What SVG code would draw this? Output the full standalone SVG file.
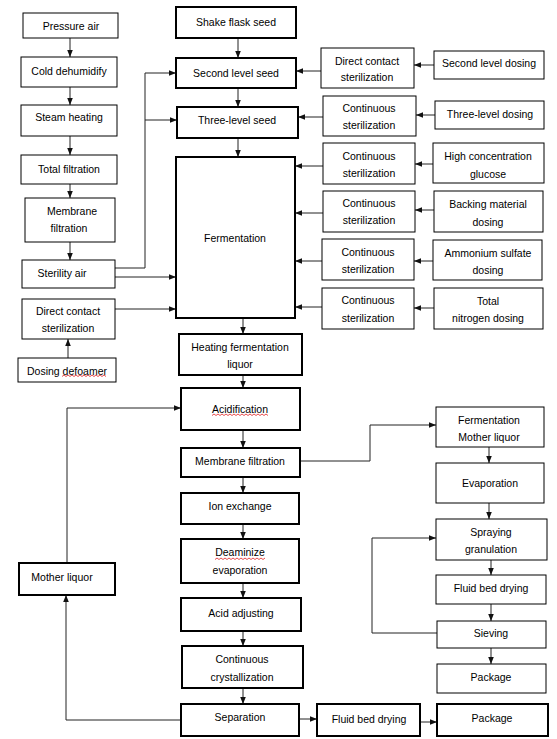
<svg xmlns="http://www.w3.org/2000/svg" width="557" height="739" viewBox="0 0 557 739">
<style>
.n rect{fill:#fff;stroke:#000;stroke-width:1}
.n.k rect{stroke-width:2}
text{font-family:"Liberation Sans",Arial,sans-serif;font-size:10.5px;text-anchor:middle;dominant-baseline:central;fill:#000}
#connectors path{fill:none;stroke:#222;stroke-width:1}
#connectors path.a{marker-end:url(#ah)}
.sq{fill:none;stroke:#e02020;stroke-width:0.8}
</style>
<defs>
<marker id="ah" viewBox="0 0 10 10" refX="10" refY="5" markerWidth="7" markerHeight="7" markerUnits="userSpaceOnUse" orient="auto"><path d="M0,1 L10,5 L0,9 z" fill="#111"/></marker>
</defs>
<rect width="557" height="739" fill="#fff"/>
<g id="connectors">
<path class="a" d="M70,38 V57"/>
<path class="a" d="M70,87 V105"/>
<path class="a" d="M70,136 V155"/>
<path class="a" d="M70,184 V198"/>
<path class="a" d="M70,242 V260"/>
<path class="a" d="M68,382 V339"/>
<path class="a" d="M115,268 H145 V73 H176"/>
<path class="a" d="M145,120 H177"/>
<path class="a" d="M115,277 H176"/>
<path class="a" d="M115,309 H176"/>
<path class="a" d="M238,38 V58"/>
<path class="a" d="M238,88 V107"/>
<path class="a" d="M238,138 V157"/>
<path class="a" d="M243,318 V334"/>
<path class="a" d="M243,375 V388"/>
<path class="a" d="M243,430 V448"/>
<path class="a" d="M243,477 V493"/>
<path class="a" d="M243,524 V539"/>
<path class="a" d="M243,583 V598"/>
<path class="a" d="M243,631 V646"/>
<path class="a" d="M243,688 V704"/>
<path class="a" d="M434,65 H414"/>
<path class="a" d="M435,115 H416"/>
<path class="a" d="M433,164 H415"/>
<path class="a" d="M434,210 H415"/>
<path class="a" d="M433,261 H414"/>
<path class="a" d="M434,308 H414"/>
<path class="a" d="M321,71 H296"/>
<path class="a" d="M323,117 H298"/>
<path class="a" d="M323,166 H295"/>
<path class="a" d="M323,213 H295"/>
<path class="a" d="M322,261 H295"/>
<path class="a" d="M322,307 H295"/>
<path class="a" d="M67,563 V408 H181"/>
<path class="a" d="M181,720 H66 V595"/>
<path class="a" d="M299,719 H317"/>
<path class="a" d="M420,722 H437"/>
<path class="a" d="M300,461 H370 V425 H436"/>
<path class="a" d="M489,447 V463"/>
<path class="a" d="M489,503 V519"/>
<path class="a" d="M491,560 V575"/>
<path class="a" d="M491,604 V621"/>
<path class="a" d="M491,648 V664"/>
<path class="a" d="M437,633 H372 V538 H436"/>
</g>
<g id="pressure" class="n"><rect x="23" y="13" width="95" height="25"/><text x="71" y="25.5">Pressure air</text></g>
<g id="cold" class="n"><rect x="21" y="57" width="96" height="30"/><text x="69" y="71">Cold dehumidify</text></g>
<g id="steam" class="n"><rect x="21" y="105" width="96" height="31"/><text x="69" y="117">Steam heating</text></g>
<g id="totalfilt" class="n"><rect x="21" y="155" width="96" height="29"/><text x="69" y="169">Total filtration</text></g>
<g id="membraneL" class="n"><rect x="25" y="198" width="90" height="44"/><text x="72" y="211">Membrane</text><text x="69" y="228">filtration</text></g>
<g id="sterility" class="n"><rect x="22" y="260" width="93" height="28"/><text x="62" y="273">Sterility air</text></g>
<g id="directL" class="n"><rect x="22" y="299" width="93" height="40"/><text x="68" y="311">Direct contact</text><text x="68" y="328">sterilization</text></g>
<g id="defoamer" class="n"><rect x="18" y="358" width="98" height="24"/><text x="67" y="371">Dosing defoamer</text><path class="sq" d="M62,376.5 l2,-1.5 l2,1.5 l2,-1.5 l2,1.5 l2,-1.5 l2,1.5 l2,-1.5 l2,1.5 l2,-1.5 l2,1.5 l2,-1.5 l2,1.5 l2,-1.5 l2,1.5 l2,-1.5 l2,1.5 l2,-1.5 l2,1.5 l2,-1.5 l2,1.5 l2,-1.5 l2,1.5"/></g>
<g id="shake" class="n k"><rect x="176" y="7" width="120" height="31"/><text x="236" y="22">Shake flask seed</text></g>
<g id="second" class="n k"><rect x="176" y="58" width="120" height="30"/><text x="236" y="73">Second level seed</text></g>
<g id="three" class="n k"><rect x="177" y="107" width="121" height="31"/><text x="237" y="120">Three-level seed</text></g>
<g id="fermentation" class="n k"><rect x="176" y="157" width="119" height="161"/><text x="235" y="238">Fermentation</text></g>
<g id="heating" class="n k"><rect x="179" y="334" width="123" height="41"/><text x="240" y="347">Heating fermentation</text><text x="240" y="364">liquor</text></g>
<g id="acidification" class="n k"><rect x="181" y="388" width="119" height="42"/><text x="240" y="409">Acidification</text><path class="sq" d="M212,415.5 l2,-1.5 l2,1.5 l2,-1.5 l2,1.5 l2,-1.5 l2,1.5 l2,-1.5 l2,1.5 l2,-1.5 l2,1.5 l2,-1.5 l2,1.5 l2,-1.5 l2,1.5 l2,-1.5 l2,1.5 l2,-1.5 l2,1.5 l2,-1.5 l2,1.5 l2,-1.5 l2,1.5 l2,-1.5 l2,1.5 l2,-1.5 l2,1.5 l2,-1.5 l2,1.5"/></g>
<g id="membraneC" class="n k"><rect x="181" y="448" width="119" height="29"/><text x="240" y="461">Membrane filtration</text></g>
<g id="ion" class="n k"><rect x="181" y="493" width="118" height="31"/><text x="240" y="506">Ion exchange</text></g>
<g id="deaminize" class="n k"><rect x="181" y="539" width="118" height="44"/><text x="240" y="552">Deaminize</text><text x="240" y="570">evaporation</text><path class="sq" d="M215,559.5 l2,-1.5 l2,1.5 l2,-1.5 l2,1.5 l2,-1.5 l2,1.5 l2,-1.5 l2,1.5 l2,-1.5 l2,1.5 l2,-1.5 l2,1.5 l2,-1.5 l2,1.5 l2,-1.5 l2,1.5 l2,-1.5 l2,1.5 l2,-1.5 l2,1.5 l2,-1.5 l2,1.5 l2,-1.5 l2,1.5 l2,-1.5"/></g>
<g id="acidadj" class="n k"><rect x="181" y="598" width="120" height="33"/><text x="241" y="613">Acid adjusting</text></g>
<g id="crystal" class="n k"><rect x="182" y="646" width="121" height="42"/><text x="242" y="659">Continuous</text><text x="242" y="677">crystallization</text></g>
<g id="separation" class="n k"><rect x="181" y="704" width="118" height="32"/><text x="240" y="717">Separation</text></g>
<g id="motherL" class="n k"><rect x="19" y="563" width="96" height="32"/><text x="62" y="577">Mother liquor</text></g>
<g id="fbdB" class="n k"><rect x="317" y="704" width="103" height="32"/><text x="369" y="719">Fluid bed drying</text></g>
<g id="pkgB" class="n k"><rect x="437" y="704" width="111" height="32"/><text x="492" y="718">Package</text></g>
<g id="ster1" class="n"><rect x="321" y="48" width="93" height="40"/><text x="367" y="61">Direct contact</text><text x="367" y="77">sterilization</text></g>
<g id="ster2" class="n"><rect x="323" y="96" width="93" height="40"/><text x="369" y="108">Continuous</text><text x="369" y="125">sterilization</text></g>
<g id="ster3" class="n"><rect x="323" y="143" width="92" height="41"/><text x="369" y="156">Continuous</text><text x="369" y="173">sterilization</text></g>
<g id="ster4" class="n"><rect x="323" y="191" width="92" height="41"/><text x="369" y="203">Continuous</text><text x="369" y="220">sterilization</text></g>
<g id="ster5" class="n"><rect x="322" y="239" width="92" height="41"/><text x="368" y="252">Continuous</text><text x="368" y="269">sterilization</text></g>
<g id="ster6" class="n"><rect x="322" y="288" width="92" height="41"/><text x="368" y="300">Continuous</text><text x="368" y="318">sterilization</text></g>
<g id="dose1" class="n"><rect x="434" y="51" width="110" height="28"/><text x="489" y="63">Second level dosing</text></g>
<g id="dose2" class="n"><rect x="435" y="101" width="109" height="28"/><text x="490" y="114">Three-level dosing</text></g>
<g id="dose3" class="n"><rect x="433" y="143" width="111" height="40"/><text x="488" y="156">High concentration</text><text x="488" y="174">glucose</text></g>
<g id="dose4" class="n"><rect x="434" y="191" width="109" height="41"/><text x="488" y="204">Backing material</text><text x="488" y="222">dosing</text></g>
<g id="dose5" class="n"><rect x="433" y="240" width="109" height="40"/><text x="488" y="253">Ammonium sulfate</text><text x="488" y="270">dosing</text></g>
<g id="dose6" class="n"><rect x="434" y="288" width="109" height="41"/><text x="488" y="301">Total</text><text x="488" y="318">nitrogen dosing</text></g>
<g id="fml" class="n"><rect x="436" y="407" width="108" height="40"/><text x="489" y="420">Fermentation</text><text x="489" y="437">Mother liquor</text></g>
<g id="evap" class="n"><rect x="436" y="463" width="108" height="40"/><text x="490" y="483">Evaporation</text></g>
<g id="spray" class="n"><rect x="436" y="519" width="111" height="41"/><text x="491" y="532">Spraying</text><text x="491" y="549">granulation</text></g>
<g id="fbdR" class="n"><rect x="436" y="575" width="110" height="29"/><text x="491" y="588">Fluid bed drying</text></g>
<g id="sieving" class="n"><rect x="437" y="621" width="109" height="27"/><text x="491" y="633">Sieving</text></g>
<g id="pkgR" class="n"><rect x="437" y="664" width="109" height="29"/><text x="491" y="677">Package</text></g>
</svg>
